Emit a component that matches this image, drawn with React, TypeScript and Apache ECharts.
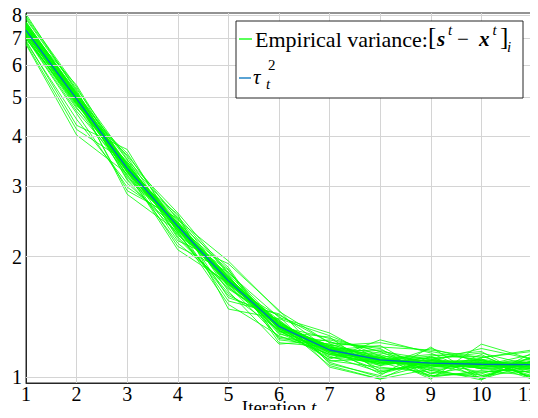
import React, { useEffect, useRef } from "react";
import * as echarts from "echarts";

const iterations = [1, 2, 3, 4, 5, 6, 7, 8, 9, 10, 11];
const tau2 = [7.33, 4.95, 3.32, 2.38, 1.74, 1.34, 1.17, 1.105, 1.085, 1.078, 1.075];
const yTicks = [1, 2, 3, 4, 5, 6, 7, 8];

const empirical: number[][] = [
  [7.41, 4.98, 3.35, 2.40, 1.76, 1.32, 1.19, 1.15, 1.09, 1.09, 1.05],
  [7.12, 4.72, 3.20, 2.16, 1.70, 1.42, 1.06, 0.99, 1.05, 0.985, 1.13],
  [7.65, 5.12, 3.48, 2.57, 1.82, 1.41, 1.29, 1.10, 1.13, 1.16, 0.99],
  [6.98, 4.85, 3.28, 2.32, 1.73, 1.35, 1.16, 1.17, 1.07, 1.06, 1.08],
  [7.30, 4.93, 3.42, 2.24, 1.66, 1.38, 1.10, 1.06, 1.03, 1.00, 1.10],
  [7.82, 5.20, 3.15, 2.43, 1.88, 1.24, 1.20, 1.22, 1.16, 1.10, 1.01],
  [7.05, 4.61, 3.30, 2.50, 1.75, 1.30, 1.26, 1.03, 1.10, 1.18, 1.11],
  [7.52, 5.03, 3.55, 2.29, 1.62, 1.31, 1.12, 1.13, 1.01, 1.03, 1.05],
  [6.85, 4.40, 3.05, 2.34, 1.79, 1.29, 1.14, 1.08, 1.12, 1.05, 1.03],
  [7.38, 4.88, 3.38, 2.45, 1.58, 1.43, 1.22, 1.18, 1.00, 1.12, 1.16],
  [7.95, 5.30, 3.26, 2.08, 1.72, 1.39, 1.09, 1.00, 1.08, 1.01, 1.09],
  [7.20, 4.79, 3.62, 2.37, 1.80, 1.25, 1.21, 1.11, 1.14, 1.11, 1.00],
  [6.76, 4.02, 3.22, 2.41, 1.68, 1.33, 1.18, 1.14, 1.04, 1.08, 1.06],
  [7.60, 5.08, 3.33, 2.19, 1.92, 1.47, 1.08, 1.01, 1.19, 0.99, 1.15],
  [7.27, 4.95, 2.92, 2.49, 1.64, 1.21, 1.24, 1.16, 1.02, 1.14, 0.99],
  [7.45, 4.90, 3.40, 2.33, 1.77, 1.36, 1.15, 1.07, 1.11, 1.05, 1.08],
  [8.05, 5.16, 3.18, 2.39, 1.71, 1.35, 1.20, 1.05, 1.06, 1.10, 1.07],
  [7.10, 4.68, 3.45, 2.26, 1.85, 1.31, 1.11, 1.24, 1.15, 1.01, 1.04],
  [7.34, 5.01, 3.25, 2.55, 1.48, 1.40, 1.27, 1.13, 0.99, 1.21, 1.11],
  [6.92, 4.25, 3.70, 2.30, 1.74, 1.33, 1.13, 1.03, 1.09, 1.03, 1.06],
  [7.71, 5.06, 3.12, 2.42, 1.78, 1.28, 1.23, 1.09, 1.12, 1.13, 1.02],
  [7.16, 4.82, 3.36, 2.36, 1.55, 1.44, 1.17, 1.20, 1.02, 1.07, 1.14],
  [7.49, 4.97, 3.29, 2.12, 1.83, 1.36, 1.07, 0.99, 1.13, 0.99, 1.08],
  [7.02, 4.55, 2.98, 2.44, 1.69, 1.26, 1.21, 1.12, 1.06, 1.11, 1.00],
  [7.88, 5.24, 3.50, 2.22, 1.67, 1.38, 1.10, 1.11, 1.04, 1.00, 1.10],
  [7.24, 4.91, 3.31, 2.38, 1.86, 1.22, 1.19, 1.07, 1.18, 1.09, 0.99],
  [6.80, 4.15, 3.44, 2.52, 1.81, 1.34, 1.25, 1.16, 1.11, 1.15, 1.07],
  [7.56, 5.10, 3.10, 2.28, 1.60, 1.39, 1.12, 1.09, 1.01, 1.02, 1.12],
  [7.36, 4.87, 3.24, 2.35, 1.73, 1.30, 1.16, 1.04, 1.07, 1.06, 1.03],
  [7.08, 4.76, 3.58, 2.47, 1.95, 1.46, 1.22, 1.19, 1.17, 1.12, 1.17],
  [7.63, 5.04, 2.86, 2.31, 1.52, 1.27, 1.14, 1.12, 1.00, 1.04, 1.01],
  [7.43, 5.35, 3.34, 2.40, 1.75, 1.37, 1.18, 1.02, 1.10, 1.08, 1.09],
  [7.28, 4.92, 3.30, 2.36, 1.72, 1.33, 1.16, 1.09, 1.07, 1.09, 1.06],
  [7.39, 5.00, 3.36, 2.41, 1.76, 1.35, 1.18, 1.12, 1.10, 1.06, 1.09],
  [7.22, 4.86, 3.27, 2.35, 1.73, 1.36, 1.19, 1.10, 1.08, 1.07, 1.08],
  [7.47, 5.05, 3.39, 2.42, 1.75, 1.32, 1.15, 1.08, 1.09, 1.10, 1.05],
  [7.15, 4.89, 3.31, 2.39, 1.77, 1.37, 1.17, 1.11, 1.06, 1.08, 1.10],
  [7.53, 5.02, 3.28, 2.34, 1.71, 1.34, 1.19, 1.13, 1.11, 1.05, 1.07],
  [7.31, 4.96, 3.37, 2.43, 1.78, 1.33, 1.14, 1.09, 1.08, 1.11, 1.06],
  [7.26, 4.83, 3.25, 2.37, 1.74, 1.36, 1.18, 1.10, 1.10, 1.07, 1.09],
  [7.58, 5.09, 3.34, 2.36, 1.70, 1.31, 1.16, 1.12, 1.07, 1.09, 1.04],
  [7.19, 4.93, 3.33, 2.40, 1.76, 1.35, 1.17, 1.08, 1.09, 1.06, 1.08],
  [7.44, 4.99, 3.29, 2.33, 1.73, 1.34, 1.20, 1.11, 1.05, 1.08, 1.11],
  [7.35, 4.94, 3.38, 2.41, 1.75, 1.32, 1.15, 1.10, 1.10, 1.10, 1.07],
  [7.00, 4.80, 3.26, 2.38, 1.77, 1.37, 1.18, 1.09, 1.08, 1.07, 1.05],
  [7.68, 5.13, 3.41, 2.39, 1.72, 1.33, 1.17, 1.11, 1.09, 1.08, 1.09],
  [7.25, 4.90, 3.32, 2.37, 1.74, 1.35, 1.16, 1.10, 1.07, 1.09, 1.06],
  [7.50, 5.01, 3.35, 2.40, 1.75, 1.34, 1.17, 1.10, 1.08, 1.07, 1.08],
];

const SERIF = "Times New Roman";
const GREEN = "#00ff00";
const BLUE = "#0072BD";
const GRID = "#d4d4d4";

export default function App() {
  const ref = useRef<HTMLDivElement>(null);

  useEffect(() => {
    if (!ref.current) return;
    const chart = echarts.init(ref.current, undefined, { renderer: "svg" });

    const greenSeries = empirical.map((row) => ({
      name: "Empirical variance",
      type: "line",
      data: row.map((v, i) => [iterations[i], v]),
      showSymbol: false,
      symbol: "none",
      lineStyle: { color: GREEN, width: 1, opacity: 0.8 },
      itemStyle: { color: GREEN },
      z: 3,
      silent: true,
    }));

    const L = (text: string, left: number, top: number, size: number, style = "normal", weight = "normal") => ({
      text,
      left,
      top,
      padding: 0,
      z: 20,
      textStyle: {
        fontFamily: SERIF,
        fontSize: size,
        fontStyle: style,
        fontWeight: weight,
        color: "#000",
      },
    });

    chart.setOption({
      animation: false,
      backgroundColor: "#fff",
      textStyle: { fontFamily: SERIF },
      title: [
        L("Empirical variance:", 255, 28, 22),
        L("[", 428, 24, 25),
        L("s", 437, 28.5, 21, "italic", "bold"),
        L("t", 448, 22.5, 15, "italic"),
        L("\u2212", 457, 28.5, 21),
        L("x", 479, 28.5, 21, "italic", "bold"),
        L("t", 492.5, 22.5, 15, "italic"),
        L("]", 500, 24, 25),
        L("i", 507, 39.5, 15, "italic"),
        L("\u03c4", 253, 66.5, 21, "italic"),
        L("2", 268, 57.5, 15),
        L("t", 266, 76.5, 15, "italic"),
      ],
      grid: {
        left: 26,
        right: 6,
        top: 13,
        bottom: 35,
        show: true,
        borderColor: "#262626",
        borderWidth: 1,
        containLabel: false,
        outerBoundsMode: "none",
      },
      xAxis: {
        type: "value",
        min: 1,
        max: 11,
        interval: 1,
        name: "Iteration {it|t}",
        nameLocation: "middle",
        nameGap: 15,
        nameMoveOverlap: false,
        nameTextStyle: {
          fontFamily: SERIF,
          fontSize: 19,
          color: "#000",
          rich: { it: { fontFamily: SERIF, fontSize: 19, fontStyle: "italic", color: "#000" } },
        },
        axisLine: { show: true, lineStyle: { color: "#262626", width: 1 } },
        axisTick: { show: false },
        axisLabel: {
          fontFamily: SERIF,
          fontSize: 20,
          color: "#000",
          margin: 1,
          formatter: (v: number) => (v === 11 ? "{last|11}" : String(v)),
          rich: { last: { fontFamily: SERIF, fontSize: 20, color: "#000", padding: [0, 9, 0, 0] } },
        },
        splitLine: { show: true, lineStyle: { color: GRID, width: 1 } },
      },
      yAxis: {
        type: "log",
        logBase: 10,
        min: 0.968,
        max: 8.1,
        axisLine: { show: true, lineStyle: { color: "#262626", width: 1 } },
        axisTick: { show: false },
        axisLabel: { show: false },
        splitLine: { show: false },
        minorSplitLine: { show: false },
      },
      series: [
        {
          name: "grid",
          type: "line",
          data: [],
          z: 1,
          silent: true,
          markLine: {
            silent: true,
            symbol: "none",
            animation: false,
            lineStyle: { color: GRID, width: 1, type: "solid" },
            label: {
              show: true,
              position: "start",
              formatter: (p: any) => String(p.value),
              fontFamily: SERIF,
              fontSize: 20,
              color: "#000",
              distance: 4,
            },
            data: yTicks.map((v) => ({ yAxis: v })),
          },
        },
        ...greenSeries,
        {
          name: "tau",
          type: "line",
          data: tau2.map((v, i) => [iterations[i], v]),
          showSymbol: false,
          symbol: "none",
          lineStyle: { color: BLUE, width: 1.3 },
          itemStyle: { color: BLUE },
          z: 5,
          silent: true,
        },
      ],
      graphic: [
        {
          type: "rect",
          z: 10,
          shape: { x: 236, y: 21, width: 287, height: 77 },
          style: { fill: "#fff", stroke: "#262626", lineWidth: 1 },
        },
        {
          type: "line",
          z: 11,
          shape: { x1: 239, y1: 39, x2: 252, y2: 39 },
          style: { stroke: GREEN, lineWidth: 1.3 },
        },
        {
          type: "line",
          z: 11,
          shape: { x1: 239, y1: 78, x2: 251, y2: 78 },
          style: { stroke: BLUE, lineWidth: 1.3 },
        },
      ],
    });

    return () => chart.dispose();
  }, []);

  return <div ref={ref} style={{ width: 538, height: 418, margin: -8 }} />;
}
